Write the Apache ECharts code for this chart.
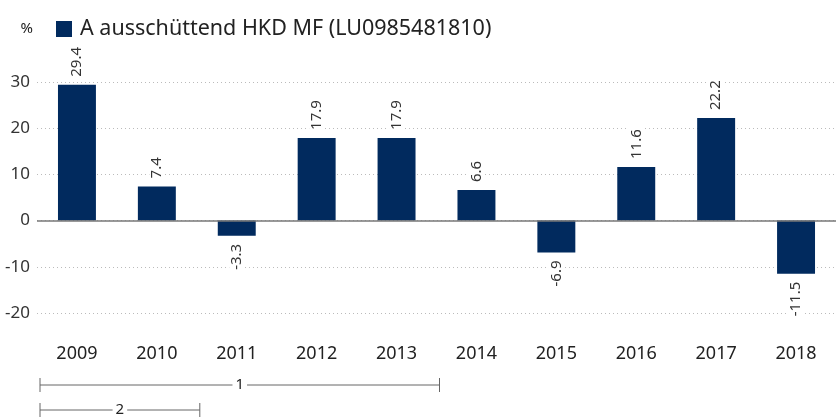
<!DOCTYPE html>
<html>
<head>
<meta charset="utf-8">
<script src="https://cdn.jsdelivr.net/npm/echarts@6/dist/echarts.min.js"></script>
<style>
  html, body { margin: 0; padding: 0; background: #fff; }
  #chart { width: 836px; height: 419px; }
</style>
</head>
<body>
<div id="chart"></div>
<script>
const years = ['2009', '2010', '2011', '2012', '2013', '2014', '2015', '2016', '2017', '2018']
const returns = [29.4, 7.4, -3.3, 17.9, 17.9, 6.6, -6.9, 11.6, 22.2, -11.5]
const seriesName = 'A ausschüttend HKD MF (LU0985481810)'
const periodLabels = ['1', '2']
const periodStart = ['2009', '2009']
const periodEnd = ['2013', '2010']

const BAR_COLOR = '#012a5e'
const TEXT_COLOR = '#333'
const FONT = '"Noto Sans", "Open Sans", sans-serif'

const chart = echarts.init(document.getElementById('chart'))

const barData = returns.map((value) => ({
  value,
  label: value >= 0
    ? { position: 'top', align: 'left' }
    : { position: 'bottom', align: 'right' }
}))

chart.setOption({
  animation: false,
  textStyle: { fontFamily: FONT },
  legend: {
    left: 51,
    top: 13,
    icon: 'rect',
    itemWidth: 16,
    itemHeight: 16,
    itemGap: 8,
    textStyle: { fontSize: 21.5, color: '#222', fontFamily: FONT, padding: [0, 0, 0, 3] },
    data: [seriesName]
  },
  grid: {
    left: 37,
    right: 0,
    top: 82,
    bottom: 106
  },
  xAxis: {
    type: 'category',
    data: years,
    axisLine: { show: false, onZero: false },
    axisTick: { show: false },
    axisLabel: { margin: 32, fontSize: 18, color: '#222' }
  },
  yAxis: {
    type: 'value',
    min: -20,
    max: 30,
    interval: 10,
    name: '%',
    nameLocation: 'end',
    nameGap: 46,
    nameTextStyle: { fontSize: 15, color: '#222', align: 'right', padding: [0, 4, 0, 0] },
    axisLine: { show: false },
    axisTick: { show: false },
    axisLabel: { fontSize: 17, color: TEXT_COLOR, margin: 7 },
    splitLine: { lineStyle: { type: [1, 3], color: '#bbb' } }
  },
  series: [{
    name: seriesName,
    type: 'bar',
    data: barData,
    barWidth: '47.5%',
    itemStyle: { color: BAR_COLOR },
    label: {
      show: true,
      rotate: 90,
      distance: 6,
      verticalAlign: 'middle',
      fontSize: 15,
      color: TEXT_COLOR,
      backgroundColor: '#fff',
      padding: [0, 2],
      formatter: (p) => p.value.toFixed(1)
    },
    markLine: {
      silent: true,
      symbol: 'none',
      label: { show: false },
      lineStyle: { color: '#777', type: 'solid', width: 1.5 },
      data: [{ yAxis: 0 }]
    }
  }]
})

// period brackets under the x axis, placed from category positions
const drawPeriods = () => {
  const c0 = chart.convertToPixel({ xAxisIndex: 0 }, years[0])
  const c1 = chart.convertToPixel({ xAxisIndex: 0 }, years[1])
  const half = (c1 - c0) / 2
  const rows = [385, 410]
  const elements = []
  periodLabels.forEach((label, i) => {
    const x1 = chart.convertToPixel({ xAxisIndex: 0 }, periodStart[i]) - half + 3
    const x2 = chart.convertToPixel({ xAxisIndex: 0 }, periodEnd[i]) + half + 3
    const y = rows[i]
    const style = { stroke: '#666', lineWidth: 1 }
    elements.push(
      { type: 'line', shape: { x1, y1: y, x2, y2: y }, style },
      { type: 'line', shape: { x1, y1: y - 7, x2: x1, y2: y + 7 }, style },
      { type: 'line', shape: { x1: x2, y1: y - 7, x2, y2: y + 7 }, style },
      {
        type: 'text',
        x: (x1 + x2) / 2,
        y,
        style: {
          text: label,
          fill: '#222',
          fontSize: 15,
          fontFamily: FONT,
          align: 'center',
          verticalAlign: 'middle',
          backgroundColor: '#fff',
          padding: [0, 3]
        }
      }
    )
  })
  chart.setOption({ graphic: elements })
}

drawPeriods()
</script>
</body>
</html>
